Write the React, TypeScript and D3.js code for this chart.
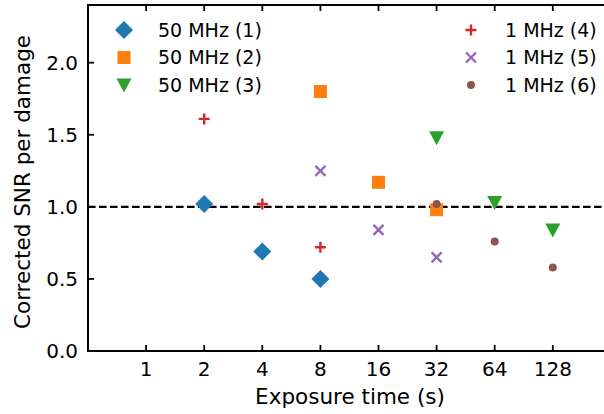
import React, { useEffect, useRef } from 'react';
import * as d3 from 'd3';

// exposure times (s) and corrected SNR per damage
const series = [
  { label: '50 MHz (1)', color: '#1f77b4', marker: 'diamond', x: [2, 4, 8], y: [1.02, 0.69, 0.5] },
  { label: '50 MHz (2)', color: '#ff7f0e', marker: 'square', x: [8, 16, 32], y: [1.8, 1.17, 0.98] },
  { label: '50 MHz (3)', color: '#2ca02c', marker: 'triangle', x: [32, 64, 128], y: [1.48, 1.03, 0.84] },
  { label: '1 MHz (4)', color: '#d62728', marker: 'plus', x: [2, 4, 8], y: [1.61, 1.02, 0.72] },
  { label: '1 MHz (5)', color: '#9467bd', marker: 'cross', x: [8, 16, 32], y: [1.25, 0.84, 0.65] },
  { label: '1 MHz (6)', color: '#8c564b', marker: 'dot', x: [32, 64, 128], y: [1.02, 0.76, 0.58] },
];
const xTicks = [1, 2, 4, 8, 16, 32, 64, 128];
const yTicks = [0, 0.5, 1.0, 1.5, 2.0];

const W = 604;
const H = 414;
const margin = { left: 88, top: 5, bottom: 63 };
const FONT = 'DejaVu Sans, sans-serif';
const FS_LABEL = 21.5;
const FS_TICK = 20;
const FS_LEGEND = 19;

const drawMarker = (g, type, color, cx, cy) => {
  if (type === 'diamond') {
    const r = 9;
    g.append('path').attr('d', `M${cx},${cy - r}L${cx + r},${cy}L${cx},${cy + r}L${cx - r},${cy}Z`).attr('fill', color);
  } else if (type === 'square') {
    g.append('rect').attr('x', cx - 6.5).attr('y', cy - 6.5).attr('width', 13).attr('height', 13).attr('fill', color);
  } else if (type === 'triangle') {
    g.append('path').attr('d', `M${cx - 7.5},${cy - 6.5}L${cx + 7.5},${cy - 6.5}L${cx},${cy + 7.5}Z`).attr('fill', color);
  } else if (type === 'plus') {
    const r = 5.5;
    g.append('path').attr('d', `M${cx - r},${cy}H${cx + r}M${cx},${cy - r}V${cy + r}`)
      .attr('stroke', color).attr('stroke-width', 2.4);
  } else if (type === 'cross') {
    const r = 5;
    g.append('path').attr('d', `M${cx - r},${cy - r}L${cx + r},${cy + r}M${cx - r},${cy + r}L${cx + r},${cy - r}`)
      .attr('stroke', color).attr('stroke-width', 2.4);
  } else {
    g.append('circle').attr('cx', cx).attr('cy', cy).attr('r', 4).attr('fill', color);
  }
};

export default function App() {
  const svgRef = useRef(null);

  useEffect(() => {
    const svg = d3.select(svgRef.current);
    svg.selectAll('*').remove();

    const x = d3.scaleLog().base(2).domain([0.5, 256]).range([margin.left, margin.left + 9 * 58.1]);
    const y = d3.scaleLinear().domain([0, 2.4]).range([H - margin.bottom, margin.top]);

    const x0 = margin.left;
    const x1 = W + 10;
    const yb = y(0);
    const yt = y(2.4);

    // reference line
    svg.append('line')
      .attr('x1', x0).attr('x2', x1).attr('y1', y(1)).attr('y2', y(1))
      .attr('stroke', '#000').attr('stroke-width', 2.1).attr('stroke-dasharray', '7.6,3.4');

    // markers
    series.forEach(s => {
      const g = svg.append('g');
      s.x.forEach((xv, i) => drawMarker(g, s.marker, s.color, x(xv), y(s.y[i])));
    });

    // spines
    svg.append('path')
      .attr('d', `M${x1},${yt}H${x0}V${yb}H${x1}`)
      .attr('fill', 'none').attr('stroke', '#000').attr('stroke-width', 2);

    // ticks (inward, top and bottom)
    xTicks.forEach(t => {
      svg.append('line').attr('x1', x(t)).attr('x2', x(t)).attr('y1', yb).attr('y2', yb - 6)
        .attr('stroke', '#000').attr('stroke-width', 1.8);
      svg.append('line').attr('x1', x(t)).attr('x2', x(t)).attr('y1', yt).attr('y2', yt + 6)
        .attr('stroke', '#000').attr('stroke-width', 1.8);
      svg.append('text').attr('x', x(t)).attr('y', yb + 25)
        .attr('text-anchor', 'middle').attr('font-family', FONT).attr('font-size', FS_TICK)
        .text(t);
    });
    yTicks.forEach(t => {
      svg.append('line').attr('x1', x0).attr('x2', x0 + 6).attr('y1', y(t)).attr('y2', y(t))
        .attr('stroke', '#000').attr('stroke-width', 1.8);
      svg.append('text').attr('x', x0 - 10).attr('y', y(t)).attr('dy', '0.36em')
        .attr('text-anchor', 'end').attr('font-family', FONT).attr('font-size', FS_TICK)
        .text(d3.format('.1f')(t));
    });

    // axis labels
    svg.append('text').attr('x', 350).attr('y', 404)
      .attr('text-anchor', 'middle').attr('font-family', FONT).attr('font-size', FS_LABEL)
      .text('Exposure time (s)');
    svg.append('text').attr('transform', `translate(30,${(yb + yt) / 2 + 4}) rotate(-90)`)
      .attr('text-anchor', 'middle').attr('font-family', FONT).attr('font-size', FS_LABEL)
      .text('Corrected SNR per damage');

    // legend, two columns
    series.forEach((s, i) => {
      const col = Math.floor(i / 3);
      const row = i % 3;
      const mx = col === 0 ? 124 : 471;
      const my = 30 + row * 27.5;
      drawMarker(svg.append('g'), s.marker, s.color, mx, my);
      svg.append('text').attr('x', mx + 34).attr('y', my).attr('dy', '0.36em')
        .attr('font-family', FONT).attr('font-size', FS_LEGEND).text(s.label);
    });
  }, []);

  return (
    <svg ref={svgRef} width={W} height={H} style={{ position: 'absolute', left: 0, top: 0, background: '#fff' }} />
  );
}
